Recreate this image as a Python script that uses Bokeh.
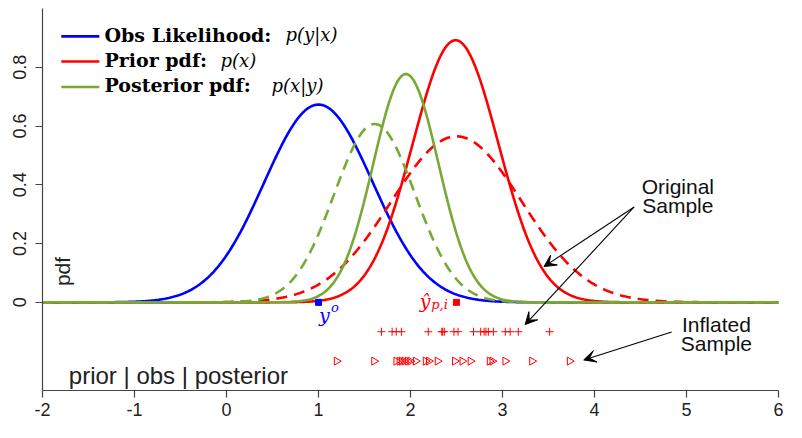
import math
import numpy as np
from bokeh.plotting import figure
from bokeh.models import Range1d, Label, Arrow, VeeHead, FixedTicker, CustomJSTickFormatter, ColumnDataSource
from bokeh.embed import file_html
from bokeh.resources import INLINE

# ---- data ----
# Gaussian-shaped curves: (centre, spread, peak height)
obs_lik = (1.00, 0.59, 0.673)
prior_pdf = (2.49, 0.465, 0.892)
prior_infl = (2.50, 0.71, 0.565)
post_pdf = (1.95, 0.355, 0.777)
post_infl = (1.61, 0.44, 0.607)

y_obs = 1.0
y_hat_prior = 2.5

orig_sample = [1.684, 1.800, 1.845, 1.901, 2.193, 2.340, 2.368, 2.472, 2.517, 2.685,
               2.763, 2.800, 2.820, 2.846, 2.901, 3.030, 3.083, 3.172, 3.512, 2.350]
infl_sample = [1.197, 1.604, 1.845, 1.880, 1.904, 1.933, 1.968, 1.997, 2.057, 2.164,
               2.199, 2.294, 2.482, 2.563, 2.652, 2.860, 2.889, 3.030, 3.321, 3.730]
orig_level = -0.1
infl_level = -0.2

y_ticks = [0, 0.2, 0.4, 0.6, 0.8]
x_ticks = [-2, -1, 0, 1, 2, 3, 4, 5, 6]

legend_bold = ["Obs Likelihood:", "Prior pdf:", "Posterior pdf:"]
legend_math = ["p(y|x)", "p(x)", "p(x|y)"]

BLUE = "#0000FF"
RED = "#FF0000"
GREEN = "#77A935"
FIX = 0.02  # baseline correction for alphabetic labels

xs = np.linspace(-2, 6, 801)


def curve(params):
    mu, sd, peak = params
    return peak * np.exp(-0.5 * ((xs - mu) / sd) ** 2)


p = figure(width=786, height=422, x_range=Range1d(-2, 6), y_range=Range1d(-0.3, 1.0),
           output_backend="svg", toolbar_location=None,
           min_border_left=42, min_border_right=8, min_border_top=8, min_border_bottom=32)
p.outline_line_color = None
p.grid.visible = False
p.background_fill_color = "white"

for ax in (p.xaxis[0], p.yaxis[0]):
    ax.axis_line_color = "#444444"
    ax.axis_line_width = 1.2
    ax.major_tick_line_color = "#444444"
    ax.major_tick_line_width = 1.2
    ax.major_tick_out = 7
    ax.major_tick_in = 0
    ax.minor_tick_line_color = None
    ax.major_label_text_font = "Liberation Sans"
    ax.major_label_text_font_size = "18px"
    ax.major_label_text_color = "#222222"

p.xaxis.ticker = FixedTicker(ticks=x_ticks)
p.xaxis.major_label_standoff = 5
p.xaxis.formatter = CustomJSTickFormatter(code="return String(Math.round(tick));")
p.yaxis.ticker = FixedTicker(ticks=y_ticks)
p.yaxis.major_label_orientation = "vertical"
p.yaxis.major_label_standoff = 9
p.yaxis.formatter = CustomJSTickFormatter(code="return tick == 0 ? '0' : tick.toFixed(1);")

# curves
p.line(xs, curve(obs_lik), line_color=BLUE, line_width=2.6)
p.line(xs, curve(prior_pdf), line_color=RED, line_width=2.6)
p.line(xs, curve(prior_infl), line_color=RED, line_width=2.6, line_dash="11 7")
p.line(xs, curve(post_pdf), line_color=GREEN, line_width=2.6)
p.line(xs, curve(post_infl), line_color=GREEN, line_width=2.6, line_dash="11 7")

# observation / predicted observation
p.scatter([y_obs], [0], marker="square", size=6, color=BLUE)
p.scatter([y_hat_prior], [0], marker="square", size=6, color=RED)

# samples
src_o = ColumnDataSource(dict(x=orig_sample, y=[orig_level] * len(orig_sample)))
src_i = ColumnDataSource(dict(x=infl_sample, y=[infl_level] * len(infl_sample)))
p.scatter("x", "y", source=src_o, marker="cross", size=8, line_color=RED, line_width=1)
p.scatter("x", "y", source=src_i, marker="triangle", size=8, angle=-math.pi / 2,
          line_color=RED, fill_color=None, line_width=1)

# manual legend
leg_line_y = [0.905, 0.8195, 0.733]
leg_base_y = [0.891, 0.804, 0.719]
leg_math_offset = [181, 116, 167]
for ly, by, col, bold, off, math_txt in zip(leg_line_y, leg_base_y, [BLUE, RED, GREEN],
                                            legend_bold, leg_math_offset, legend_math):
    p.line([-1.796, -1.382], [ly, ly], line_color=col, line_width=2.6)
    p.add_layout(Label(x=-1.326, y=by + FIX, text=bold, text_font="DejaVu Serif",
                       text_font_style="bold", text_font_size="19px",
                       text_baseline="alphabetic", text_color="black"))
    p.add_layout(Label(x=-1.326, y=by + FIX, x_offset=off, text=math_txt, text_font="DejaVu Serif",
                       text_font_style="italic", text_font_size="18px",
                       text_baseline="alphabetic", text_color="black"))

# math labels near markers
p.add_layout(Label(x=1.005, y=-0.063 + FIX, text="y", text_font="DejaVu Serif",
                   text_font_style="italic", text_font_size="19px",
                   text_baseline="alphabetic", text_color=BLUE))
p.add_layout(Label(x=1.135, y=-0.036 + FIX, text="o", text_font="DejaVu Serif",
                   text_font_style="italic", text_font_size="13px",
                   text_baseline="alphabetic", text_color=BLUE))
p.add_layout(Label(x=2.10, y=-0.017 + FIX, text="\u0177", text_font="DejaVu Serif",
                   text_font_style="italic", text_font_size="19px",
                   text_baseline="alphabetic", text_color=RED))
p.add_layout(Label(x=2.225, y=-0.027 + FIX, text="p,i", text_font="DejaVu Serif",
                   text_font_style="italic", text_font_size="13px",
                   text_baseline="alphabetic", text_color=RED))

# axis-like text inside the plot
p.add_layout(Label(x=-1.779, y=0.105, text="pdf", angle=math.pi / 2,
                   text_align="center", text_baseline="middle",
                   text_font="Liberation Sans", text_font_size="21px", text_color="#222222"))
p.add_layout(Label(x=-1.714, y=-0.2696 + FIX, text="prior | obs | posterior",
                   text_baseline="alphabetic", text_font="Liberation Sans",
                   text_font_size="24px", text_color="#222222"))

# annotations
for txt, yy in (("Original", 0.3738), ("Sample", 0.308)):
    p.add_layout(Label(x=4.906, y=yy + FIX, text=txt, text_align="center", text_baseline="alphabetic",
                       text_font="Liberation Sans", text_font_size="21px", text_color="#111111"))
for txt, yy in (("Inflated", -0.0943), ("Sample", -0.160)):
    p.add_layout(Label(x=5.325, y=yy + FIX, text=txt, text_align="center", text_baseline="alphabetic",
                       text_font="Liberation Sans", text_font_size="21px", text_color="#111111"))

arrows = [
    (4.431, 0.3245, 3.451, 0.1216),
    (4.431, 0.3245, 3.246, -0.0756),
    (4.839, -0.101, 3.883, -0.196),
]
for x0, y0, x1, y1 in arrows:
    p.add_layout(Arrow(end=VeeHead(size=12, fill_color="black", line_color="black"),
                       x_start=x0, y_start=y0, x_end=x1, y_end=y1,
                       line_color="black", line_width=1.1))

open("out.html", "w").write(file_html(p, INLINE))
